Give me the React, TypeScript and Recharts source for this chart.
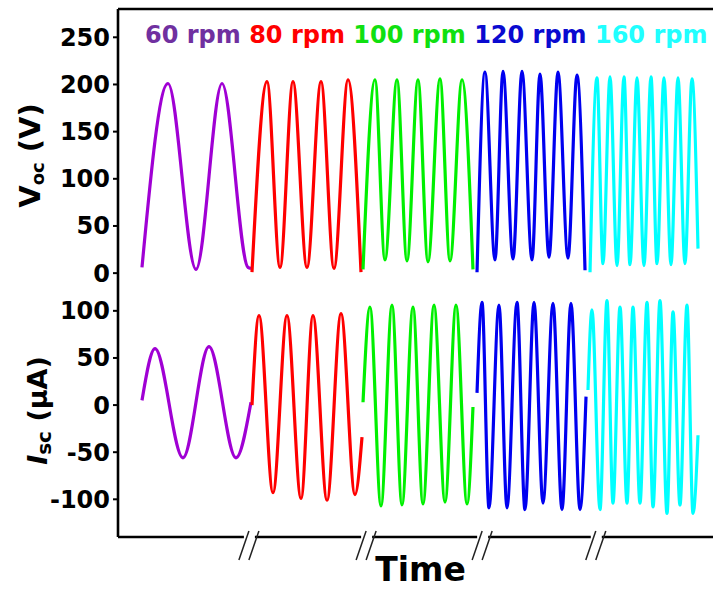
import React from 'react';
import { LineChart, Line, XAxis, YAxis, Label } from 'recharts';

// ---- data (time in arbitrary units, Voc in V, Isc in μA) ----
const speeds = ['60 rpm', '80 rpm', '100 rpm', '120 rpm', '160 rpm'];
const lineColors = ['#A000D4', '#FF0000', '#00F000', '#0000F0', '#00FFFF'];
const textColors = ['#7030A0', '#FF0000', '#10E010', '#0A0AD0', '#20FFFF'];

const vocTicks = [0, 50, 100, 150, 200, 250];
const iscTicks = [-100, -50, 0, 50, 100];
const breakTimes = [22.0, 41.7, 61.2, 80.3];

const voc60 = [
  { t: 4.03, v: 6 }, { t: 8.4, v: 201 }, { t: 13.11, v: 4 }, { t: 17.48, v: 201 },
  { t: 21.85, v: 6 }, { t: 22.35, v: 5 },
];
const voc80 = [
  { t: 22.52, v: 1 }, { t: 25.04, v: 203 }, { t: 27.23, v: 6 }, { t: 29.41, v: 203 },
  { t: 31.76, v: 6 }, { t: 34.12, v: 203 }, { t: 36.3, v: 5 }, { t: 38.66, v: 205 },
  { t: 40.84, v: 1 },
];
const voc100 = [
  { t: 41.18, v: 4 }, { t: 43.19, v: 205 }, { t: 44.87, v: 14 }, { t: 46.89, v: 205 },
  { t: 48.57, v: 13 }, { t: 50.42, v: 205 }, { t: 52.1, v: 12 }, { t: 54.12, v: 206 },
  { t: 55.8, v: 13 }, { t: 57.82, v: 205 }, { t: 59.66, v: 4 },
];
const voc120 = [
  { t: 60.34, v: 1 }, { t: 61.68, v: 213 }, { t: 63.36, v: 14 }, { t: 64.71, v: 214 },
  { t: 66.39, v: 15 }, { t: 67.9, v: 214 }, { t: 69.58, v: 14 }, { t: 70.92, v: 211 },
  { t: 72.44, v: 17 }, { t: 73.95, v: 213 }, { t: 75.63, v: 16 }, { t: 77.14, v: 210 },
  { t: 78.49, v: 3 },
];
const voc160 = [
  { t: 79.33, v: 1 }, { t: 80.5, v: 207 }, { t: 81.51, v: 10 }, { t: 82.69, v: 208 },
  { t: 83.87, v: 8 }, { t: 85.04, v: 208 }, { t: 86.05, v: 9 }, { t: 87.23, v: 207 },
  { t: 88.4, v: 8 }, { t: 89.58, v: 208 }, { t: 90.59, v: 10 }, { t: 91.76, v: 207 },
  { t: 92.94, v: 9 }, { t: 94.12, v: 207 }, { t: 95.29, v: 10 }, { t: 96.47, v: 206 },
  { t: 97.48, v: 26 },
];

const isc60 = [
  { t: 4.03, v: 5 }, { t: 6.22, v: 60 }, { t: 10.92, v: -56 }, { t: 15.29, v: 62 },
  { t: 19.83, v: -56 }, { t: 22.35, v: 3 },
];
const isc80 = [
  { t: 22.52, v: 0 }, { t: 23.7, v: 95 }, { t: 26.05, v: -93 }, { t: 28.4, v: 95 },
  { t: 30.76, v: -99 }, { t: 32.77, v: 95 }, { t: 35.13, v: -101 }, { t: 37.48, v: 97 },
  { t: 39.83, v: -95 }, { t: 41.01, v: -34 },
];
const isc100 = [
  { t: 41.18, v: 3 }, { t: 42.35, v: 104 }, { t: 44.2, v: -107 }, { t: 46.05, v: 106 },
  { t: 47.73, v: -106 }, { t: 49.58, v: 104 }, { t: 51.26, v: -105 }, { t: 53.11, v: 106 },
  { t: 54.96, v: -103 }, { t: 56.81, v: 106 }, { t: 58.66, v: -105 }, { t: 59.66, v: -2 },
];
const isc120 = [
  { t: 60.34, v: 13 }, { t: 61.18, v: 109 }, { t: 62.35, v: -109 }, { t: 64.03, v: 106 },
  { t: 65.38, v: -109 }, { t: 67.06, v: 109 }, { t: 68.4, v: -111 }, { t: 69.92, v: 109 },
  { t: 71.43, v: -104 }, { t: 73.11, v: 108 }, { t: 74.62, v: -111 }, { t: 76.13, v: 108 },
  { t: 77.65, v: -111 }, { t: 78.66, v: 9 },
];
const isc160 = [
  { t: 78.99, v: 16 }, { t: 79.66, v: 101 }, { t: 81.01, v: -111 }, { t: 82.18, v: 111 },
  { t: 83.19, v: -104 }, { t: 84.37, v: 104 }, { t: 85.55, v: -104 }, { t: 86.55, v: 104 },
  { t: 87.73, v: -104 }, { t: 88.91, v: 109 }, { t: 89.92, v: -108 }, { t: 91.09, v: 111 },
  { t: 92.27, v: -115 }, { t: 93.28, v: 99 }, { t: 94.45, v: -106 }, { t: 95.63, v: 106 },
  { t: 96.64, v: -115 }, { t: 97.48, v: -32 },
];

const vocSeries = [voc60, voc80, voc100, voc120, voc160];
const iscSeries = [isc60, isc80, isc100, isc120, isc160];

// ---- styling ----
const FONT = "'DejaVu Sans', sans-serif";
const axisLine = { stroke: '#000', strokeWidth: 2.6 };
const tickStyle = { fill: '#000', fontSize: 24, fontWeight: 'bold', fontFamily: FONT };
const W = 713;

function RpmLabels(props: any) {
  const vb = props.viewBox || { x: 118, y: 9, height: 1 };
  const baseY = vb.y + (vb.height || 0) + 34;
  return (
    <text x={vb.x + 27} y={baseY} fontFamily={FONT} fontWeight="bold" fontSize={24} style={{ whiteSpace: 'pre' }}>
      {speeds.map((s, i) => (
        <tspan key={s} fill={textColors[i]}>{s + (i < speeds.length - 1 ? ' ' : '')}</tspan>
      ))}
    </text>
  );
}

function VocLabel(props: any) {
  const vb = props.viewBox;
  const cy = vb.y + vb.height / 2 + 5;
  return (
    <g transform={`translate(40, ${cy}) rotate(-90)`}>
      <text x={0} y={0} textAnchor="middle" fontFamily={FONT} fontWeight="bold" fontSize={29} fill="#000" style={{ whiteSpace: 'pre' }}>
        <tspan>V</tspan>
        <tspan fontSize={18} dy={4}>oc</tspan>
        <tspan dy={-4}>{' (V)'}</tspan>
      </text>
    </g>
  );
}

function IscLabel(props: any) {
  const vb = props.viewBox;
  const cy = vb.y + vb.height / 2 - 4;
  return (
    <g transform={`translate(47, ${cy}) rotate(-90)`}>
      <text x={0} y={0} textAnchor="middle" fontFamily={FONT} fontWeight="bold" fontSize={27} fill="#000" style={{ whiteSpace: 'pre' }}>
        <tspan fontStyle="italic">I</tspan>
        <tspan fontSize={20} dy={4}>sc</tspan>
        <tspan dy={-4}>{' (μA)'}</tspan>
      </text>
    </g>
  );
}

function TimeLabel(props: any) {
  const vb = props.viewBox;
  return (
    <text x={vb.x + vb.width / 2 + 5} y={vb.y + 44} textAnchor="middle" fontFamily={FONT} fontWeight="bold" fontSize={33} fill="#000">
      Time
    </text>
  );
}

function BreakTick(props: any) {
  const { x, y } = props;
  return (
    <g>
      <rect x={x - 5} y={y - 3} width={11} height={6} fill="#fff" />
      <line x1={x - 10} y1={y + 23} x2={x} y2={y - 6} stroke="#222" strokeWidth={1.5} />
      <line x1={x} y1={y + 23} x2={x + 10} y2={y - 6} stroke="#222" strokeWidth={1.5} />
    </g>
  );
}

export default function App() {
  return (
    <div style={{ position: 'absolute', left: 0, top: 0, width: W, height: 590, overflow: 'hidden', background: '#fff' }}>
      <div style={{ position: 'absolute', left: 0, top: 0 }}>
        <LineChart width={W} height={292} margin={{ top: 8, right: 0, bottom: 0, left: 0 }}>
          <XAxis
            xAxisId="t"
            orientation="top"
            type="number"
            dataKey="t"
            domain={[0, 100]}
            height={1}
            tick={false}
            tickLine={false}
            axisLine={axisLine}
          >
            <Label content={<RpmLabels />} />
          </XAxis>
          <YAxis
            yAxisId="v"
            type="number"
            domain={[-20, 280]}
            ticks={vocTicks}
            width={118}
            axisLine={axisLine}
            tickLine={{ stroke: '#000', strokeWidth: 2 }}
            tickSize={5}
            tickMargin={3}
            tick={tickStyle}
          >
            <Label content={<VocLabel />} />
          </YAxis>
          {vocSeries.map((d, i) => (
            <Line
              key={speeds[i]}
              xAxisId="t"
              yAxisId="v"
              data={d}
              dataKey="v"
              name={speeds[i]}
              type="monotone"
              stroke={lineColors[i]}
              strokeWidth={3.2}
              dot={false}
              isAnimationActive={false}
            />
          ))}
        </LineChart>
      </div>
      <div style={{ position: 'absolute', left: 0, top: 292 }}>
        <LineChart width={W} height={298} margin={{ top: 0, right: 0, bottom: 0, left: 0 }}>
          <XAxis
            xAxisId="t"
            orientation="bottom"
            type="number"
            dataKey="t"
            domain={[0, 100]}
            height={53}
            ticks={breakTimes}
            tick={<BreakTick />}
            tickLine={false}
            tickSize={0}
            tickMargin={0}
            axisLine={axisLine}
            interval={0}
          >
            <Label content={<TimeLabel />} />
          </XAxis>
          <YAxis
            yAxisId="i"
            type="number"
            domain={[-140, 120]}
            ticks={iscTicks}
            width={118}
            axisLine={axisLine}
            tickLine={{ stroke: '#000', strokeWidth: 2 }}
            tickSize={5}
            tickMargin={3}
            tick={tickStyle}
          >
            <Label content={<IscLabel />} />
          </YAxis>
          {iscSeries.map((d, i) => (
            <Line
              key={speeds[i]}
              xAxisId="t"
              yAxisId="i"
              data={d}
              dataKey="v"
              name={speeds[i]}
              type="monotone"
              stroke={lineColors[i]}
              strokeWidth={3.2}
              dot={false}
              isAnimationActive={false}
            />
          ))}
        </LineChart>
      </div>
    </div>
  );
}
